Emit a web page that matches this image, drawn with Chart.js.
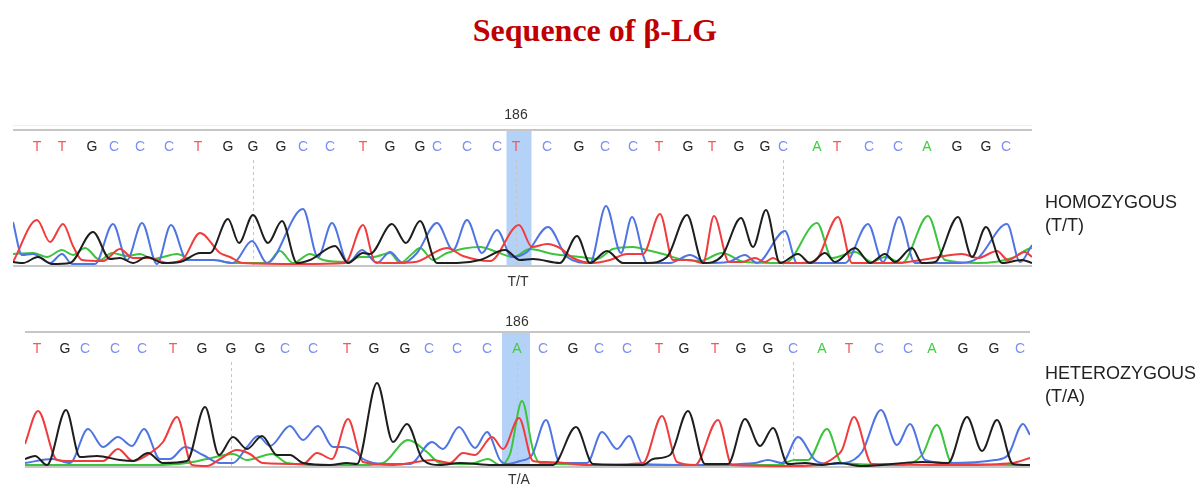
<!DOCTYPE html>
<html>
<head>
<meta charset="utf-8">
<script src="https://cdn.jsdelivr.net/npm/chart.js@4.4.1/dist/chart.umd.min.js"></script>
<style>
  body { margin: 0; background: #fff; width: 1197px; height: 485px; overflow: hidden; position: relative; font-family: "Liberation Sans", Arial, sans-serif; }
  .title { position: absolute; left: 0; width: 1190px; top: 12px; line-height: 36px; text-align: center; font: bold 32px "Liberation Serif", "Times New Roman", serif; color: #c00000; }
  canvas { position: absolute; left: 0; }
  .side { position: absolute; left: 1045px; font-size: 18px; line-height: 23px; color: #222; }
</style>
</head>
<body>
<div class="title">Sequence of β-LG</div>
<canvas id="homo" width="1197" height="190" style="top:100px"></canvas>
<canvas id="hetero" width="1197" height="190" style="top:300px"></canvas>
<div class="side" style="top:191px">HOMOZYGOUS<br>(T/T)</div>
<div class="side" style="top:362px">HETEROZYGOUS<br>(T/A)</div>
<script>
// base calls and where they sit along the trace (scan position)
const siteNumber = 186;

const homoBases = [...'TTGCCCTGGGCCTGGCCCTCGCCTGTGGCATCCAGGC'];
const homoPos = [37, 62, 92, 114, 140, 169, 198, 228, 253, 281, 303, 330, 363, 390, 420, 437, 467, 497, 516, 547,
  579, 605, 633, 659, 688, 712, 739, 765, 783, 817, 837, 869, 898, 927, 957, 986, 1006];
const homoSite = 18;
const homoGenotype = 'T/T';

const heteroBases = [...'TGCCCTGGGCCTGGCCCACGCCTGTGGCATCCAGGC'];
const heteroPos = [37, 65, 85, 115, 142, 173, 202, 231, 260, 285, 313, 347, 374, 405, 429, 457, 487, 517, 543, 573,
  599, 627, 659, 684, 715, 741, 768, 793, 822, 849, 879, 908, 932, 963, 994, 1020];
const heteroSite = 17;
const heteroGenotype = 'T/A';

// trace intensities: [scan position, signal]
const homoG = [[13,4],[23,3],[38,9],[52,2],[70,3],[93,34],[110,7],[120,8],[133,3],[147,9],[163,3],[180,4],[200,13],[210,13],
  [228,47],[239,23],[253,51],[268,23],[282,45],[297,3],[310,6],[335,20],[348,3],[363,13],[370,12],[392,42],[406,23],[420,45],
  [437,3],[457,3],[480,6],[505,16],[520,6],[533,7],[560,3],[577,30],[590,3],[607,15],[623,3],[647,3],[667,9],[687,51],[703,3],
  [722,10],[741,48],[753,19],[766,56],[780,3],[798,12],[810,3],[825,13],[835,4],[855,18],[870,3],[885,12],[895,4],[912,18],
  [922,3],[935,4],[958,49],[972,9],[986,39],[1002,3],[1022,6],[1032,3]];
const homoT = [[13,4],[37,46],[50,24],[63,42],[73,20],[82,6],[103,5],[120,17],[133,8],[150,8],[167,3],[183,7],[200,33],[220,13],
  [230,9],[243,3],[300,2],[345,3],[363,41],[375,4],[388,3],[415,4],[447,18],[463,10],[490,5],[519,41],[532,19],[547,22],[560,18],
  [573,8],[593,3],[610,6],[627,12],[643,12],[660,52],[673,6],[690,6],[703,3],[714,50],[729,4],[742,4],[755,8],[765,4],[773,8],
  [783,3],[800,3],[815,5],[838,49],[852,3],[895,3],[928,7],[962,12],[978,8],[997,15],[1008,6],[1025,14],[1032,9]];
const homoC = [[13,44],[22,11],[33,12],[50,3],[62,12],[72,2],[95,2],[113,42],[127,6],[142,43],[157,2],[171,41],[187,6],[213,6],
  [233,3],[252,25],[267,3],[303,57],[318,9],[332,43],[348,3],[362,16],[377,3],[390,14],[403,3],[417,13],[437,43],[453,16],[467,46],
  [482,13],[497,36],[512,9],[527,14],[548,39],[567,9],[590,3],[606,60],[621,13],[632,49],[647,3],[670,3],[690,11],[707,3],[728,4],
  [745,11],[757,3],[785,35],[797,3],[845,3],[868,42],[883,4],[899,49],[915,3],[960,3],[978,8],[1007,42],[1020,4],[1032,21]];
const homoA = [[13,12],[33,13],[47,9],[62,16],[73,11],[85,18],[100,6],[112,13],[127,10],[140,12],[153,7],[177,12],[193,6],[213,6],
  [233,3],[253,3],[267,3],[280,15],[293,3],[310,12],[323,6],[347,4],[360,9],[373,9],[390,13],[400,3],[413,13],[420,18],[433,6],
  [447,13],[480,19],[497,14],[513,9],[530,17],[553,12],[580,9],[597,7],[613,17],[633,19],[647,16],[663,12],[680,7],[700,5],[722,13],
  [745,4],[785,3],[817,43],[832,8],[855,14],[872,4],[885,9],[902,3],[928,50],[945,6],[978,3],[1012,8],[1028,17],[1032,18]];

const heteroG = [[25,8],[35,11],[47,2],[66,57],[80,10],[97,11],[120,7],[133,6],[148,14],[163,4],[187,6],[205,60],[219,12],[233,30],
  [247,18],[262,31],[277,12],[290,12],[303,4],[330,2],[347,4],[357,3],[377,84],[393,25],[407,43],[423,7],[440,2],[460,4],[493,2],
  [527,2],[553,2],[576,40],[593,3],[643,2],[653,8],[670,12],[688,56],[705,3],[728,3],[745,48],[760,21],[773,39],[788,3],[805,4],
  [822,2],[838,4],[862,1],[922,5],[948,4],[967,50],[982,16],[997,47],[1013,3],[1030,2]];
const heteroT = [[25,23],[38,56],[57,7],[70,6],[103,6],[118,18],[133,6],[153,16],[163,25],[177,50],[192,2],[207,1],[220,8],[237,17],
  [250,13],[263,4],[303,3],[317,14],[332,8],[348,48],[363,5],[393,2],[433,7],[450,4],[463,14],[475,12],[492,30],[503,18],[519,49],
  [533,6],[547,5],[593,2],[643,4],[662,51],[677,5],[695,2],[718,47],[732,2],[795,1],[822,3],[835,10],[842,17],[854,50],[872,3],
  [962,2],[1012,4],[1030,9]];
const heteroC = [[25,4],[53,8],[70,4],[88,38],[103,20],[118,30],[132,21],[144,38],[160,8],[170,8],[185,20],[203,12],[220,4],[233,4],
  [247,20],[258,31],[270,21],[290,41],[303,27],[318,41],[333,20],[343,20],[357,14],[363,8],[387,3],[410,3],[432,25],[443,18],[459,40],
  [475,19],[487,35],[500,7],[507,3],[520,6],[532,12],[546,47],[560,4],[587,4],[602,35],[617,18],[629,31],[643,3],[695,2],[755,4],
  [768,7],[782,4],[798,30],[815,7],[828,3],[845,4],[862,15],[881,57],[897,22],[910,43],[925,7],[948,4],[995,7],[1008,12],[1023,43],[1030,32]];
const heteroA = [[25,2],[120,2],[153,2],[187,4],[207,8],[233,13],[247,7],[272,13],[287,4],[320,2],[363,2],[383,4],[408,27],[427,15],
  [440,4],[470,3],[488,8],[500,2],[510,13],[522,66],[533,17],[540,4],[627,2],[695,2],[778,2],[795,7],[808,7],[827,38],[842,4],
  [902,2],[922,12],[937,42],[952,4],[1030,2]];

const traceColors = { G: '#1e1e1e', T: '#f03c3c', C: '#4f74e3', A: '#3cc43c' };
const callColors = { G: '#222222', T: '#f25a5a', C: '#7d8ff0', A: '#3ccf3c' };

// draws highlight band, every-10 markers, frame, base calls and labels
const chromoPlugin = {
  id: 'chromo',
  beforeDatasetsDraw(chart, args, opts) {
    const { ctx, chartArea: a, scales: { x } } = chart;
    const pos = opts.positions, s = opts.site;
    const bl = x.getPixelForValue((pos[s - 1] + pos[s]) / 2);
    const br = x.getPixelForValue((pos[s] + pos[s + 1]) / 2);
    ctx.save();
    ctx.fillStyle = '#b4d2f7';
    ctx.fillRect(bl, a.top, br - bl, a.bottom - a.top);

    ctx.strokeStyle = '#c4c4c4';
    ctx.lineWidth = 1;
    ctx.setLineDash([3, 3]);
    pos.forEach((p, k) => {
      if ((k - s) % 10 !== 0) return;
      const px = Math.round(x.getPixelForValue(p)) + 0.5;
      ctx.beginPath();
      ctx.moveTo(px, a.top + 30);
      ctx.lineTo(px, a.bottom);
      ctx.stroke();
    });
    ctx.setLineDash([]);

    if (opts.faintTop) {
      ctx.fillStyle = '#efefef';
      ctx.fillRect(a.left, a.top - 5, a.right - a.left, 1);
    }
    ctx.fillStyle = '#c6c6c6';
    ctx.fillRect(a.left, a.top - 1, a.right - a.left, 2);
    ctx.fillRect(a.left, a.bottom - 1, a.right - a.left, 2);
    ctx.restore();
  },
  afterDatasetsDraw(chart, args, opts) {
    const { ctx, chartArea: a, scales: { x } } = chart;
    ctx.save();
    ctx.textAlign = 'center';
    ctx.textBaseline = 'middle';
    ctx.font = '14px "Liberation Sans", Arial, sans-serif';
    opts.bases.forEach((b, k) => {
      ctx.fillStyle = callColors[b];
      ctx.fillText(b, x.getPixelForValue(opts.positions[k]), a.top + 17);
    });
    const sx = x.getPixelForValue(opts.positions[opts.site]);
    ctx.fillStyle = '#333';
    ctx.fillText(String(siteNumber), sx, a.top - opts.numberGap);
    ctx.fillText(opts.genotype, sx + 2, a.bottom + opts.genoGap);
    ctx.restore();
  }
};

function toPoints(arr) {
  return arr.map(([x, y]) => ({ x, y }));
}

function makePanel(id, traces, cfg) {
  const order = ['G', 'T', 'C', 'A'];
  return new Chart(document.getElementById(id), {
    type: 'line',
    data: {
      datasets: order.map(b => ({
        label: b,
        data: toPoints(traces[b]),
        borderColor: traceColors[b],
        borderWidth: 2,
        pointRadius: 0,
        fill: false,
        cubicInterpolationMode: 'monotone'
      }))
    },
    options: {
      responsive: false,
      animation: false,
      layout: { padding: cfg.padding },
      scales: {
        x: { type: 'linear', min: cfg.xMin, max: cfg.xMax, display: false },
        y: { min: 0, max: cfg.yMax, display: false }
      },
      plugins: {
        legend: { display: false },
        tooltip: { enabled: false },
        chromo: cfg.chromo
      }
    },
    plugins: [chromoPlugin]
  });
}

makePanel('homo', { G: homoG, T: homoT, C: homoC, A: homoA }, {
  padding: { left: 13, right: 165, top: 30, bottom: 24 },
  xMin: 13, xMax: 1032, yMax: 136,
  chromo: { bases: homoBases, positions: homoPos, site: homoSite, genotype: homoGenotype, numberGap: 15, genoGap: 16, faintTop: true }
});

makePanel('hetero', { G: heteroG, T: heteroT, C: heteroC, A: heteroA }, {
  padding: { left: 25, right: 167, top: 32, bottom: 23 },
  xMin: 25, xMax: 1030, yMax: 135,
  chromo: { bases: heteroBases, positions: heteroPos, site: heteroSite, genotype: heteroGenotype, numberGap: 10, genoGap: 13, faintTop: false }
});
</script>
</body>
</html>
